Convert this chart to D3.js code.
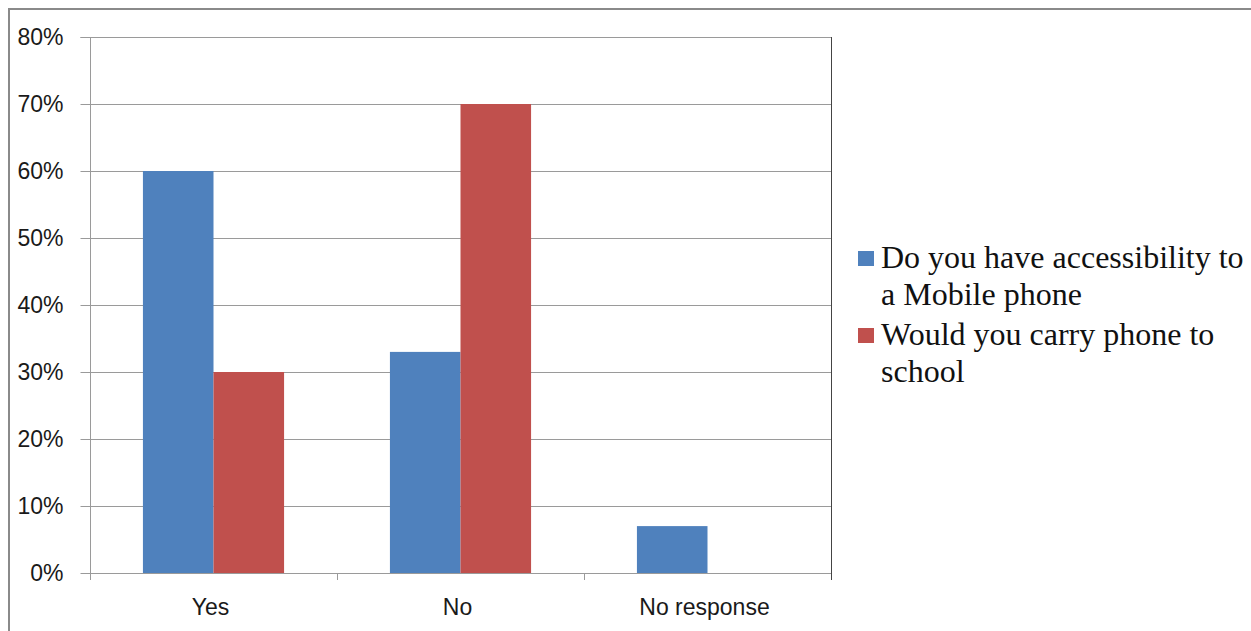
<!DOCTYPE html>
<html>
<head>
<meta charset="utf-8">
<script src="https://cdn.jsdelivr.net/npm/d3@7"></script>
<style>
  html, body { margin: 0; padding: 0; background: #fff; }
  svg { display: block; }
</style>
</head>
<body>
<svg id="chart" width="1251" height="631"></svg>
<script>
// Survey responses (share of respondents)
const categories = ["Yes", "No", "No response"];
const seriesNames = ["Do you have accessibility to a Mobile phone", "Would you carry phone to school"];
const accessValues = [0.60, 0.33, 0.07];
const carryValues = [0.30, 0.70, 0.00];
const yTickValues = [0, 0.1, 0.2, 0.3, 0.4, 0.5, 0.6, 0.7, 0.8];
const legendLines = [["Do you have accessibility to", "a Mobile phone"], ["Would you carry phone to", "school"]];

const colors = ["#4f81bd", "#c0504d"];
const series = [accessValues, carryValues];
const sansFont = "'Liberation Sans', Arial, sans-serif";

const svg = d3.select("#chart");

// Outer chart frame (top and left edges visible)
svg.append("line").attr("x1", 8).attr("x2", 1251).attr("y1", 9).attr("y2", 9)
  .attr("stroke", "#8a8a8a").attr("stroke-width", 2);
svg.append("line").attr("x1", 9).attr("x2", 9).attr("y1", 8).attr("y2", 631)
  .attr("stroke", "#8a8a8a").attr("stroke-width", 2);

const plot = { left: 90, right: 831, top: 37, bottom: 573 };

const x = d3.scaleBand().domain(categories).range([plot.left, plot.right]);
const y = d3.scaleLinear().domain([0, 0.8]).range([plot.bottom, plot.top]);

// Horizontal gridlines
svg.append("g").selectAll("line").data(yTickValues.filter(v => v > 0)).join("line")
  .attr("x1", plot.left).attr("x2", plot.right)
  .attr("y1", d => Math.round(y(d)) + 0.5).attr("y2", d => Math.round(y(d)) + 0.5)
  .attr("stroke", "#9a9a9a").attr("stroke-width", 1);

// Right edge of the plot area
svg.append("line").attr("x1", plot.right + 0.5).attr("x2", plot.right + 0.5)
  .attr("y1", plot.top).attr("y2", plot.bottom + 7)
  .attr("stroke", "#444").attr("stroke-width", 1);

// Bars: two series side by side within each category
const inner = d3.scaleBand().domain(d3.range(series.length))
  .range([0, x.bandwidth()]).paddingInner(0).paddingOuter(0.75);

series.forEach((vals, si) => {
  svg.append("g").selectAll("rect").data(categories.map((c, i) => ({ c, v: vals[i] })).filter(d => d.v > 0)).join("rect")
    .attr("x", d => x(d.c) + inner(si))
    .attr("width", inner.bandwidth())
    .attr("y", d => y(d.v))
    .attr("height", d => y(0) - y(d.v))
    .attr("fill", colors[si]);
});

// Y axis
const yAxis = d3.axisLeft(y).tickValues(yTickValues).tickFormat(d3.format(".0%")).tickSize(10).tickPadding(17);
const gy = svg.append("g").attr("transform", `translate(${plot.left + 0.5},0)`).call(yAxis);
gy.select(".domain").attr("stroke", "#9a9a9a").attr("d", `M-10,${plot.top + 0.5}H0V${plot.bottom + 0.5}`);
gy.selectAll(".tick line").attr("stroke", "#9a9a9a");
gy.selectAll(".tick text").attr("fill", "#1a1a1a").style("font-family", sansFont).style("font-size", "23px");

// X axis with ticks on category boundaries
svg.append("line").attr("x1", plot.left).attr("x2", plot.right).attr("y1", plot.bottom + 0.5).attr("y2", plot.bottom + 0.5)
  .attr("stroke", "#9a9a9a");
const boundaries = categories.map(c => x(c)).concat([plot.right]);
svg.append("g").selectAll("line").data(boundaries).join("line")
  .attr("x1", d => Math.round(d) + 0.5).attr("x2", d => Math.round(d) + 0.5)
  .attr("y1", plot.bottom).attr("y2", plot.bottom + 7)
  .attr("stroke", (d, i) => i === boundaries.length - 1 ? "#444" : "#9a9a9a");
svg.append("g").selectAll("text").data(categories).join("text")
  .attr("x", d => x(d) + x.bandwidth() / 2 - 3)
  .attr("y", 615)
  .attr("text-anchor", "middle")
  .attr("fill", "#1a1a1a")
  .style("font-family", sansFont)
  .style("font-size", "23px")
  .text(d => d);

// Legend
const legend = svg.append("g");
const legendTop = [251, 328];
seriesNames.forEach((name, si) => {
  const g = legend.append("g").attr("transform", `translate(858,${legendTop[si]})`);
  g.append("rect").attr("width", 16).attr("height", 15).attr("fill", colors[si]);
  g.selectAll("text").data(legendLines[si]).join("text")
    .attr("x", 23).attr("y", (d, i) => 17 + i * 37)
    .attr("fill", "#111")
    .style("font-family", "'Liberation Serif', 'Times New Roman', serif")
    .style("font-size", "32px")
    .text(d => d);
});
</script>
</body>
</html>
